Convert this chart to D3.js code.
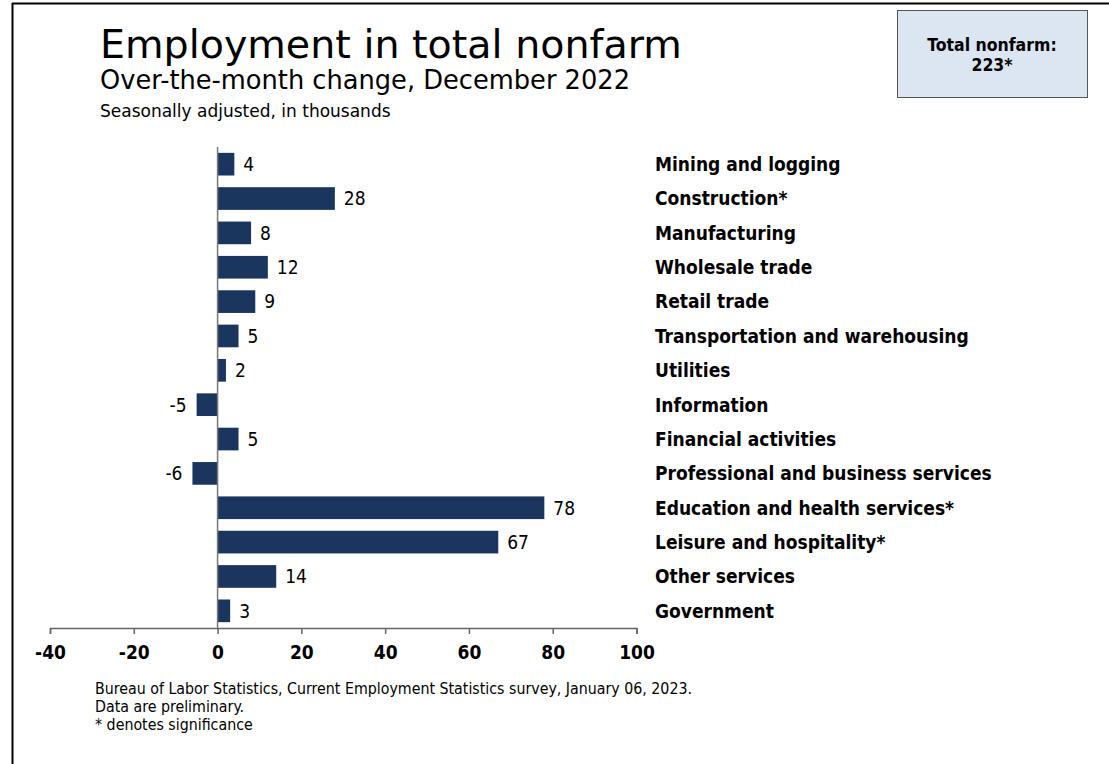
<!DOCTYPE html>
<html>
<head>
<meta charset="utf-8">
<script src="https://cdn.jsdelivr.net/npm/d3@7"></script>
<style>
  html, body { margin: 0; padding: 0; background: #fff; }
  svg { display: block; font-family: "DejaVu Sans Condensed", "DejaVu Sans", sans-serif; }
  .wide { font-family: "DejaVu Sans", sans-serif; }
</style>
</head>
<body>
<svg id="chart" width="1109" height="764"></svg>
<script>
// Over-the-month change by industry, December 2022 (thousands, seasonally adjusted)
const industries = [
  "Mining and logging",
  "Construction*",
  "Manufacturing",
  "Wholesale trade",
  "Retail trade",
  "Transportation and warehousing",
  "Utilities",
  "Information",
  "Financial activities",
  "Professional and business services",
  "Education and health services*",
  "Leisure and hospitality*",
  "Other services",
  "Government"
];
const changes = [4, 28, 8, 12, 9, 5, 2, -5, 5, -6, 78, 67, 14, 3];
const xTicks = [-40, -20, 0, 20, 40, 60, 80, 100];
const totalNonfarm = "223*";

const svg = d3.select("#chart");
const barColor = "#1a365e";

// outer frame (top and left edges)
svg.append("line").attr("x1", 12).attr("x2", 1109).attr("y1", 3.5).attr("y2", 3.5)
  .attr("stroke", "#000").attr("stroke-width", 2);
svg.append("line").attr("x1", 12.5).attr("x2", 12.5).attr("y1", 3).attr("y2", 764)
  .attr("stroke", "#000").attr("stroke-width", 2);

// titles
svg.append("text").attr("class", "wide").attr("x", 100).attr("y", 58).attr("font-size", 39.6).attr("fill", "#000")
  .text("Employment in total nonfarm");
svg.append("text").attr("class", "wide").attr("x", 100).attr("y", 89).attr("font-size", 25.7).attr("fill", "#000")
  .text("Over-the-month change, December 2022");
svg.append("text").attr("class", "wide").attr("x", 100).attr("y", 117).attr("font-size", 17).attr("fill", "#000")
  .text("Seasonally adjusted, in thousands");

// total nonfarm box
const box = svg.append("g");
box.append("rect").attr("x", 897.5).attr("y", 10.5).attr("width", 190).attr("height", 87)
  .attr("fill", "#dce6f2").attr("stroke", "#555").attr("stroke-width", 1);
box.append("text").attr("x", 992).attr("y", 51).attr("text-anchor", "middle")
  .attr("font-size", 17.5).attr("font-weight", "bold").text("Total nonfarm:");
box.append("text").attr("x", 992).attr("y", 70.5).attr("text-anchor", "middle")
  .attr("font-size", 17.5).attr("font-weight", "bold").text(totalNonfarm);

// scales
const x = d3.scaleLinear().domain([-40, 100]).range([50, 636.5]);
const y = d3.scaleBand().domain(industries).range([147, 628]).paddingInner(0.34).paddingOuter(0.17);

// bars
svg.append("g").selectAll("rect").data(changes).join("rect")
  .attr("x", d => x(Math.min(0, d)))
  .attr("width", d => Math.abs(x(d) - x(0)))
  .attr("y", (d, i) => y(industries[i]))
  .attr("height", y.bandwidth())
  .attr("fill", barColor);

// value labels
svg.append("g").selectAll("text").data(changes).join("text")
  .attr("x", d => d >= 0 ? x(d) + 9 : x(d) - 10)
  .attr("y", (d, i) => y(industries[i]) + y.bandwidth() / 2)
  .attr("dy", "0.36em")
  .attr("text-anchor", d => d >= 0 ? "start" : "end")
  .attr("font-size", 19).attr("fill", "#000")
  .text(d => d);

// category labels
svg.append("g").selectAll("text").data(industries).join("text")
  .attr("x", 655)
  .attr("y", d => y(d) + y.bandwidth() / 2)
  .attr("dy", "0.36em")
  .attr("font-size", 19).attr("font-weight", "bold").attr("fill", "#000")
  .text(d => d);

// zero line
svg.append("line").attr("x1", x(0)).attr("x2", x(0)).attr("y1", 147).attr("y2", 628)
  .attr("stroke", "#777").attr("stroke-width", 1.5);

// x axis
const xAxis = svg.append("g").attr("transform", "translate(0,628)")
  .call(d3.axisBottom(x).tickValues(xTicks).tickSize(6).tickPadding(12).tickFormat(d => String(d)));
xAxis.select(".domain").attr("stroke", "#666").attr("stroke-width", 1.5);
xAxis.selectAll(".tick line").attr("stroke", "#666").attr("stroke-width", 1.5);
xAxis.selectAll(".tick text").attr("font-size", 19).attr("font-weight", "bold")
  .attr("fill", "#000").attr("font-family", "\"DejaVu Sans Condensed\", \"DejaVu Sans\", sans-serif");

// source notes
const notes = [
  "Bureau of Labor Statistics, Current Employment Statistics survey, January 06, 2023.",
  "Data are preliminary.",
  "* denotes significance"
];
svg.append("g").selectAll("text").data(notes).join("text")
  .attr("x", 95).attr("y", (d, i) => 693.5 + i * 18.2)
  .attr("font-size", 15.8).attr("fill", "#000")
  .text(d => d);
</script>
</body>
</html>
